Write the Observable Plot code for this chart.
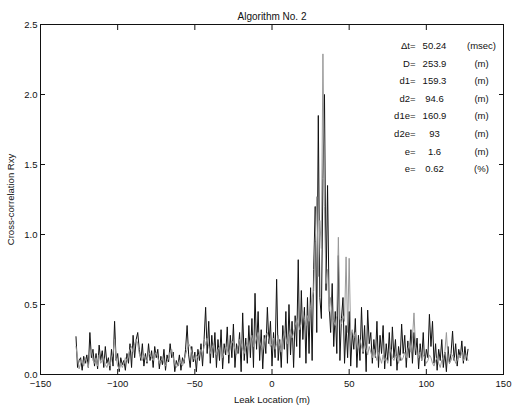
<!DOCTYPE html>
<html>
<head>
<meta charset="utf-8">
<script src="https://cdn.jsdelivr.net/npm/d3@7"></script>
<script src="https://cdn.jsdelivr.net/npm/@observablehq/plot@0.6"></script>
<style>
  body { margin: 0; background: #fff; font-family: "Liberation Sans", Arial, sans-serif; }
</style>
</head>
<body>
<div id="chart"></div>
<script>
const title = "Algorithm No. 2";
const xStart = -127; // first leak location (m), 1 m spacing
const seriesBlack = [
  0.27,0.05,0.10,0.12,0.03,0.13,0.08,0.14,0.05,0.30,
  0.12,0.18,0.06,0.15,0.04,0.21,0.10,0.17,0.05,0.20,
  0.08,0.12,0.03,0.18,0.06,0.38,0.10,0.15,0.02,0.12,
  0.07,0.10,0.03,0.15,0.08,0.22,0.05,0.28,0.12,0.25,
  0.30,0.18,0.10,0.22,0.06,0.15,0.08,0.22,0.10,0.17,
  0.05,0.20,0.12,0.18,0.04,0.13,0.07,0.18,0.03,0.14,
  0.09,0.22,0.12,0.16,0.02,0.10,0.06,0.14,0.03,0.12,
  0.08,0.18,0.35,0.14,0.05,0.20,0.09,0.16,0.02,0.18,
  0.10,0.22,0.06,0.25,0.48,0.15,0.38,0.08,0.28,0.12,
  0.30,0.05,0.25,0.10,0.32,0.04,0.22,0.14,0.34,0.08,
  0.28,0.12,0.36,0.05,0.22,0.15,0.30,0.02,0.44,0.10,
  0.26,0.08,0.35,0.12,0.40,0.05,0.58,0.18,0.45,0.10,
  0.32,0.04,0.28,0.15,0.48,0.22,0.38,0.06,0.30,0.12,
  0.68,0.10,0.25,0.05,0.35,0.18,0.45,0.08,0.50,0.14,
  0.38,0.05,0.42,0.20,0.82,0.12,0.60,0.25,0.48,0.08,
  0.55,0.15,0.62,0.10,0.75,1.20,0.30,1.85,0.55,0.40,
  1.40,2.00,0.60,1.35,0.50,0.30,0.65,0.20,0.45,0.15,
  0.85,0.10,0.40,0.55,0.08,0.35,0.12,0.45,0.06,0.30,
  0.18,0.40,0.05,0.28,0.10,0.48,0.15,0.35,0.02,0.46,
  0.22,0.30,0.08,0.25,0.12,0.38,0.05,0.28,0.15,0.35,
  0.04,0.22,0.10,0.30,0.06,0.34,0.12,0.25,0.03,0.20,
  0.10,0.36,0.15,0.28,0.05,0.24,0.12,0.32,0.08,0.30,
  0.14,0.26,0.04,0.22,0.10,0.30,0.06,0.18,0.12,0.43,
  0.20,0.38,0.08,0.22,0.03,0.18,0.10,0.25,0.05,0.16,
  0.02,0.20,0.08,0.15,0.31,0.10,0.22,0.06,0.18,0.12,
  0.24,0.08,0.20,0.10,0.18
];
const seriesGrey = [
  0.20,0.12,0.04,0.08,0.10,0.06,0.12,0.09,0.05,0.15,
  0.18,0.10,0.08,0.12,0.06,0.14,0.08,0.10,0.12,0.07,
  0.05,0.09,0.06,0.12,0.15,0.25,0.12,0.06,0.04,0.08,
  0.05,0.08,0.12,0.10,0.14,0.18,0.20,0.16,0.22,0.25,
  0.22,0.15,0.12,0.10,0.14,0.12,0.09,0.16,0.14,0.12,
  0.10,0.14,0.16,0.12,0.08,0.10,0.12,0.08,0.06,0.09,
  0.12,0.16,0.18,0.12,0.08,0.05,0.07,0.10,0.08,0.06,
  0.10,0.14,0.18,0.22,0.20,0.16,0.12,0.10,0.14,0.12,
  0.15,0.18,0.14,0.20,0.22,0.26,0.20,0.15,0.18,0.22,
  0.16,0.14,0.18,0.20,0.15,0.12,0.16,0.20,0.18,0.14,
  0.20,0.24,0.22,0.18,0.14,0.20,0.25,0.22,0.18,0.15,
  0.20,0.22,0.18,0.25,0.28,0.20,0.22,0.26,0.30,0.24,
  0.20,0.18,0.24,0.28,0.30,0.25,0.20,0.22,0.26,0.18,
  0.22,0.28,0.20,0.16,0.24,0.30,0.26,0.22,0.28,0.32,
  0.26,0.30,0.35,0.40,0.36,0.32,0.38,0.45,0.40,0.35,
  0.42,0.38,0.48,0.55,0.60,0.95,1.27,0.70,1.10,0.90,
  2.29,1.20,0.65,0.75,0.45,0.55,0.40,0.38,0.35,0.42,
  0.98,0.40,0.36,0.42,0.38,0.84,0.30,0.83,0.28,0.32,
  0.26,0.30,0.22,0.18,0.25,0.20,0.16,0.22,0.18,0.14,
  0.20,0.16,0.12,0.18,0.14,0.10,0.16,0.12,0.08,0.14,
  0.10,0.12,0.08,0.15,0.18,0.12,0.10,0.14,0.12,0.08,
  0.14,0.10,0.12,0.16,0.12,0.18,0.22,0.16,0.26,0.44,
  0.20,0.14,0.12,0.16,0.10,0.14,0.12,0.08,0.10,0.14,
  0.12,0.08,0.06,0.10,0.12,0.08,0.05,0.10,0.12,0.16,
  0.30,0.12,0.08,0.10,0.14,0.12,0.08,0.10,0.14,0.12,
  0.16,0.10,0.12,0.14,0.10
];
const xTicks = [-150, -100, -50, 0, 50, 100, 150];
const yTicks = [0, 0.5, 1, 1.5, 2, 2.5];
const infoLabels = ["\u0394t=", "D=", "d1=", "d2=", "d1e=", "d2e=", "e=", "e="];
const infoValues = ["50.24", "253.9", "159.3", "94.6", "160.9", "93", "1.6", "0.62"];
const infoUnits = ["(msec)", "(m)", "(m)", "(m)", "(m)", "(m)", "(m)", "(%)"];

const black = seriesBlack.map((v, i) => ({x: xStart + i, y: v}));
const grey = seriesGrey.map((v, i) => ({x: xStart + i, y: v}));

const infoMarks = [];
infoLabels.forEach((lab, i) => {
  const dy = 17.7 + i * 17.6;
  infoMarks.push(Plot.text([lab], {text: d => d, frameAnchor: "top-right", dx: -88, dy, textAnchor: "end", fontSize: 9.5, fill: "#111"}));
  infoMarks.push(Plot.text([infoValues[i]], {text: d => d, frameAnchor: "top-right", dx: -69, dy, textAnchor: "middle", fontSize: 9.5, fill: "#111"}));
  infoMarks.push(Plot.text([infoUnits[i]], {text: d => d, frameAnchor: "top-right", dx: -22, dy, textAnchor: "middle", fontSize: 9.5, fill: "#111"}));
});

const plot = Plot.plot({
  width: 513,
  height: 405,
  marginLeft: 40,
  marginRight: 10,
  marginTop: 24,
  marginBottom: 31,
  style: {fontFamily: "Liberation Sans, Arial, sans-serif", fontSize: "9.5px", color: "#111", background: "#fff"},
  x: {domain: [-150, 150]},
  y: {domain: [0, 2.5]},
  marks: [
    Plot.line(black, {x: "x", y: "y", stroke: "#111", strokeWidth: 1}),
    Plot.line(grey, {x: "x", y: "y", stroke: "#999", strokeWidth: 1}),
    Plot.frame({stroke: "#111"}),
    Plot.axisX({ticks: xTicks, tickSize: -5, tickPadding: 11, label: "Leak Location (m)", labelAnchor: "center", labelArrow: "none", labelOffset: 28}),
    Plot.axisX({anchor: "top", ticks: xTicks, tickSize: -5, tickFormat: () => "", label: null}),
    Plot.axisY({ticks: yTicks, tickSize: -5, tickPadding: 8, label: "Cross-correlation Rxy", labelAnchor: "center", labelArrow: "none", labelOffset: 33}),
    Plot.axisY({anchor: "right", ticks: yTicks, tickSize: -5, tickFormat: () => "", label: null}),
    Plot.text([title], {text: d => d, frameAnchor: "top", dy: -12, fontSize: 10, fill: "#111"}),
    ...infoMarks
  ]
});
document.getElementById("chart").appendChild(plot);
</script>
</body>
</html>
